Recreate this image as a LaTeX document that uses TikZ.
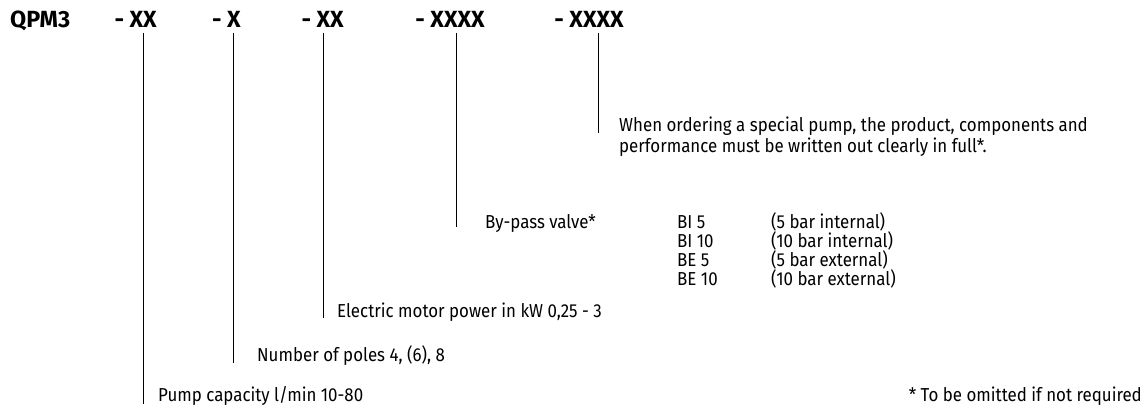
\documentclass[tikz,border=0pt]{standalone}
\usepackage{fontspec}
\newfontfamily\bodyff{Fira Sans}[FakeStretch=0.9]
\newfontfamily\headff{Fira Sans}
\newlength\mytw
\begin{document}
\settowidth\mytw{\bodyff\fontsize{10}{12}\selectfont Pump capacity l/min 10-80}%
\pgfmathsetmacro\bsz{10*205/\mytw}%
\settowidth\mytw{\headff\bfseries\fontsize{10}{12}\selectfont QPM3}%
\pgfmathsetmacro\hsz{10*60/\mytw}%
\def\bodyfont{\bodyff\fontsize{\bsz}{\bsz}\selectfont}%
\def\headfont{\headff\bfseries\fontsize{\hsz}{\hsz}\selectfont}%
\begin{tikzpicture}[x=1pt,y=-1pt,
  txt/.style={anchor=base west, inner sep=0pt, font=\bodyfont},
  hd/.style={anchor=base east, inner sep=0pt, font=\headfont},
  lead/.style={line width=1pt, line cap=butt}]
\fill[white] (0,0) rectangle (1148,411);
\useasboundingbox (0,0) rectangle (1148,411);
% header
\node[hd, anchor=base west] (h0) at (10,28) {QPM3};
\node[hd] (h1) at (157,28) {- XX};
\node[hd] (h2) at (241,28) {- X};
\node[hd] (h3) at (344,28) {- XX};
\node[hd] (h4) at (485,28) {- XXXX};
\node[hd] (h5) at (624,28) {- XXXX};
% texts
\node[txt] (pump) at (158,401) {Pump capacity l/min 10-80};
\node[txt] (poles) at (257,362) {Number of poles 4, (6), 8};
\node[txt] (motor) at (337,318) {Electric motor power in kW 0,25 - 3};
\node[txt] (bypass) at (485,229) {By-pass valve*};
\node[txt] (bi5) at (677,229) {BI 5};
\node[txt] (bi10) at (677,248) {BI 10};
\node[txt] (be5) at (677,267) {BE 5};
\node[txt] (be10) at (677,286) {BE 10};
\node[txt] (bi5d) at (771,229) {(5 bar internal)};
\node[txt] (bi10d) at (771,248) {(10 bar internal)};
\node[txt] (be5d) at (771,267) {(5 bar external)};
\node[txt] (be10d) at (771,286) {(10 bar external)};
\node[txt] (spec1) at (619,132) {When ordering a special pump, the product, components and};
\node[txt] (spec2) at (619,153) {performance must be written out clearly in full*.};
\node[txt, anchor=base east] (foot) at (1142,401) {* To be omitted if not required};
% leader lines
\coordinate (t1) at (143,33); \coordinate (b1) at (143,404);
\coordinate (t2) at (233,33); \coordinate (b2) at (233,363);
\coordinate (t3) at (323,33); \coordinate (b3) at (323,318);
\coordinate (t4) at (456,33); \coordinate (b4) at (456,227);
\coordinate (t5) at (598,33); \coordinate (b5) at (598,133);
\draw[lead] (t1) -- (b1);
\draw[lead] (t2) -- (b2);
\draw[lead] (t3) -- (b3);
\draw[lead] (t4) -- (b4);
\draw[lead] (t5) -- (b5);
\end{tikzpicture}
\end{document}
